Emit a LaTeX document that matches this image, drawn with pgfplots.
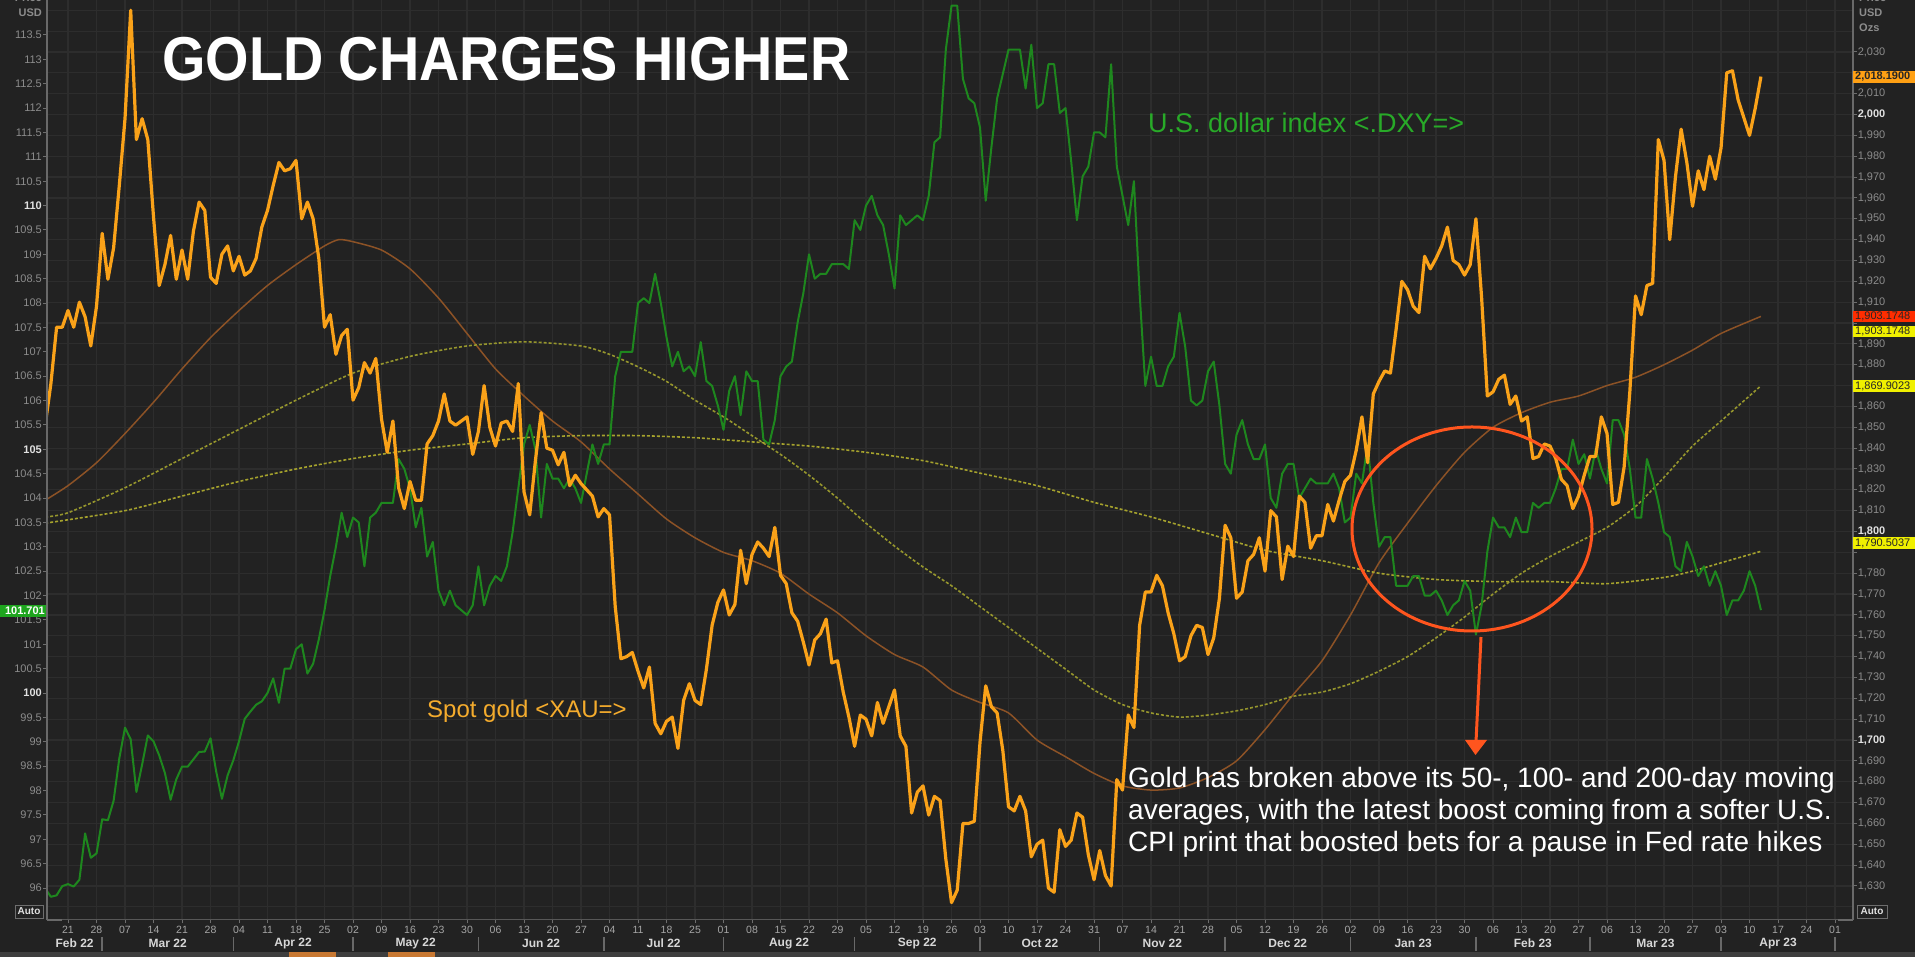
\documentclass[border=0pt]{standalone}
\usepackage{fontspec}
\setmainfont{Liberation Sans}
\usepackage{graphicx}
\usepackage{pgfplots}
\pgfplotsset{compat=1.18}

\definecolor{bg}{RGB}{34,34,34}
\definecolor{gridc}{RGB}{45,45,45}
\definecolor{goldc}{RGB}{250,162,25}
\definecolor{dxyc}{RGB}{30,135,30}
\definecolor{maf}{RGB}{140,82,38}
\definecolor{mam}{RGB}{150,150,45}
\definecolor{mas}{RGB}{165,162,45}
\definecolor{ticklab}{RGB}{140,140,140}
\definecolor{labhi}{RGB}{225,225,225}
\definecolor{tickc}{RGB}{110,110,110}
\definecolor{axisc}{RGB}{105,105,105}
\definecolor{circ}{RGB}{255,85,30}
\definecolor{labgreen}{RGB}{40,170,40}
\definecolor{laborange}{RGB}{245,172,45}
\definecolor{daylab}{RGB}{165,165,165}
\definecolor{monlab}{RGB}{215,215,215}
\definecolor{band}{RGB}{62,62,62}
\definecolor{bandor}{RGB}{200,120,50}
\definecolor{tagor}{RGB}{255,160,20}
\definecolor{tagred}{RGB}{255,45,0}
\definecolor{tagyel}{RGB}{240,240,0}
\definecolor{taggreen}{RGB}{30,165,30}

\pgfplotsset{base/.style={scale only axis, width=1806pt, height=920pt,
  at={(47pt,37pt)}, anchor=south west, xmin=-0.737, xmax=62.632,
  axis line style={draw=none}, clip=true}}

\begin{document}
\begin{tikzpicture}[x=1pt,y=1pt]
\useasboundingbox (0,0) rectangle (1915,957);
\clip (0,0) rectangle (1915,957);
\fill[bg] (0,0) rectangle (1915,957);

% grid and moving averages (gold scale)
\begin{axis}[base, ymin=1613.69, ymax=2054.94,
  xtick={0,...,62}, ytick={1620,1630,...,2050},
  xticklabels={}, yticklabels={},
  grid=major, major grid style={draw=gridc, line width=1.2pt},
  major tick length=0pt]
\addplot[maf, line width=1.5pt, smooth, tension=0.4] coordinates {
(-0.8,1815)(0,1822)(1,1833)(2,1847)(3,1862)(4,1878)(5,1893)(6,1906)(7,1918)(8,1928)(9,1937)(9.5,1940)(10,1939)(11,1935)(12,1926)(13,1912)(14,1895)(15,1878)(16,1865)(17,1853)(18,1843)(19,1830)(20,1818)(21,1806)(22,1797)(23,1790)(24,1786)(25,1780)(26,1770)(27,1761)(28,1750)(29,1741)(30,1735)(31,1724)(32,1718)(33,1713)(34,1700)(35,1692)(36,1684)(37,1678)(38,1676)(39,1677)(40,1682)(41,1690)(42,1705)(43,1722)(44,1738)(45,1760)(46,1785)(47,1804)(48,1822)(49,1838)(50,1850)(51,1857)(52,1862)(53,1865)(54,1870)(55,1874)(56,1880)(57,1887)(58,1895)(59.4,1903.17)};
\addplot[mam, line width=1.6pt, dash pattern=on 3pt off 2pt, smooth, tension=0.4] coordinates {
(-0.8,1807)(0,1809)(2,1821)(4,1835)(6,1849)(8,1863)(10,1876)(12,1884)(14,1889)(16,1891)(18,1889)(19,1885)(20,1879)(21,1872)(22,1863)(23,1855)(24,1846)(25,1837)(26,1827)(27,1816)(28,1804)(29,1793)(30,1783)(31,1774)(32,1764)(33,1754)(34,1744)(35,1734)(36,1724)(37,1717)(38,1713)(39,1711)(40,1712)(41,1714)(42,1717)(43,1721)(44,1723)(45,1727)(46,1733)(47,1740)(48,1749)(49,1759)(50,1770)(51,1780)(52,1788)(53,1795)(54,1802)(55,1812)(56,1826)(57,1841)(58,1853)(59.4,1869.90)};
\addplot[mas, line width=1.6pt, dash pattern=on 3pt off 2pt, smooth, tension=0.4] coordinates {
(-0.8,1804)(2,1810)(4,1817)(6,1824)(8,1830)(10,1835)(12,1839)(14,1842)(16,1845)(18,1846)(20,1846)(22,1845)(24,1843)(26,1841)(28,1838)(30,1834)(32,1828)(34,1822)(36,1814)(38,1807)(40,1799)(42,1791)(44,1786)(46,1780)(48,1777)(50,1776)(52,1776)(54,1775)(56,1778)(57,1781)(58,1785)(59.4,1790.50)};
\end{axis}

% U.S. dollar index (left scale)
\begin{axis}[base, ymin=95.344, ymax=114.218,
  xtick=\empty,
  ytick={96,96.5,97,97.5,98,98.5,99,99.5,100,100.5,101,101.5,102,102.5,103,103.5,104,104.5,105,105.5,106,106.5,107,107.5,108,108.5,109,109.5,110,110.5,111,111.5,112,112.5,113,113.5},
  yticklabels={{96},{96.5},{97},{97.5},{98},{98.5},{99},{99.5},{\color{labhi}\textbf{100}},{100.5},{101},{101.5},{102},{102.5},{103},{103.5},{104},{104.5},{\color{labhi}\textbf{105}},{105.5},{106},{106.5},{107},{107.5},{108},{108.5},{109},{109.5},{\color{labhi}\textbf{110}},{110.5},{111},{111.5},{112},{112.5},{113},{113.5}},
  ytick pos=left, yticklabel pos=left, tick align=outside, major tick length=4pt,
  tick style={draw=tickc, line width=1pt},
  yticklabel style={font=\fontsize{11}{11}\selectfont, text=ticklab, inner sep=1pt}]
\addplot[dxyc, line width=2pt, line join=round] coordinates {
(-0.8,95.99)(-0.6,95.82)(-0.4,95.85)(-0.2,96.04)
(0,96.08)(0.2,96.03)(0.4,96.17)(0.6,97.12)(0.8,96.62)
(1,96.71)(1.2,97.41)(1.4,97.39)(1.6,97.79)(1.8,98.66)
(2,99.29)(2.2,99.05)(2.4,97.97)(2.6,98.53)(2.8,99.13)
(3,99.01)(3.2,98.72)(3.4,98.36)(3.6,97.81)(3.8,98.23)
(4,98.49)(4.2,98.49)(4.4,98.64)(4.6,98.79)(4.8,98.80)
(5,99.07)(5.2,98.39)(5.4,97.83)(5.6,98.31)(5.8,98.62)
(6,99.01)(6.2,99.47)(6.4,99.62)(6.6,99.76)(6.8,99.83)
(7,100.00)(7.2,100.30)(7.4,99.80)(7.6,100.50)(7.8,100.50)
(8,100.90)(8.2,101.00)(8.4,100.40)(8.6,100.60)(8.8,101.10)
(9,101.70)(9.2,102.40)(9.4,103.00)(9.6,103.70)(9.8,103.20)
(10,103.60)(10.2,103.50)(10.4,102.60)(10.6,103.60)(10.8,103.70)
(11,103.90)(11.2,103.90)(11.4,103.90)(11.6,104.80)(11.8,104.60)
(12,104.20)(12.2,103.40)(12.4,103.80)(12.6,102.80)(12.8,103.10)
(13,102.10)(13.2,101.80)(13.4,102.10)(13.6,101.80)(13.8,101.70)
(14,101.60)(14.2,101.80)(14.4,102.60)(14.6,101.80)(14.8,102.20)
(15,102.40)(15.2,102.30)(15.4,102.60)(15.6,103.30)(15.8,104.20)
(16,105.10)(16.2,105.50)(16.4,105.00)(16.6,103.60)(16.8,104.70)
(17,104.40)(17.2,104.40)(17.4,104.20)(17.6,104.40)(17.8,104.20)
(18,103.90)(18.2,104.50)(18.4,105.10)(18.6,104.70)(18.8,105.10)
(19,105.10)(19.2,106.50)(19.4,107.00)(19.6,107.00)(19.8,107.00)
(20,108.00)(20.2,108.10)(20.4,108.00)(20.6,108.60)(20.8,108.00)
(21,107.30)(21.2,106.70)(21.4,107.00)(21.6,106.60)(21.8,106.70)
(22,106.50)(22.2,107.20)(22.4,106.40)(22.6,106.30)(22.8,105.90)
(23,105.40)(23.2,106.20)(23.4,106.50)(23.6,105.70)(23.8,106.60)
(24,106.40)(24.2,106.40)(24.4,105.20)(24.6,105.10)(24.8,105.60)
(25,106.50)(25.2,106.70)(25.4,106.80)(25.6,107.60)(25.8,108.20)
(26,109.00)(26.2,108.50)(26.4,108.60)(26.6,108.60)(26.8,108.80)
(27,108.80)(27.2,108.80)(27.4,108.70)(27.6,109.70)(27.8,109.50)
(28,110.00)(28.2,110.20)(28.4,109.80)(28.6,109.60)(28.8,109.00)
(29,108.30)(29.2,109.80)(29.4,109.60)(29.6,109.70)(29.8,109.80)
(30,109.70)(30.2,110.20)(30.4,111.30)(30.6,111.40)(30.8,113.20)
(31,114.10)(31.2,114.10)(31.4,112.60)(31.6,112.20)(31.8,112.10)
(32,111.60)(32.2,110.10)(32.4,111.20)(32.6,112.20)(32.8,112.70)
(33,113.20)(33.2,113.20)(33.4,113.20)(33.6,112.40)(33.8,113.30)
(34,112.00)(34.2,112.10)(34.4,112.90)(34.6,112.90)(34.8,111.90)
(35,112.00)(35.2,110.90)(35.4,109.70)(35.6,110.60)(35.8,110.80)
(36,111.50)(36.2,111.50)(36.4,111.40)(36.6,112.90)(36.8,110.80)
(37,110.20)(37.2,109.60)(37.4,110.50)(37.6,108.20)(37.8,106.30)
(38,106.90)(38.2,106.30)(38.4,106.30)(38.6,106.70)(38.8,106.90)
(39,107.80)(39.2,107.10)(39.4,106.00)(39.6,105.90)(39.8,106.00)
(40,106.60)(40.2,106.80)(40.4,105.90)(40.6,104.70)(40.8,104.50)
(41,105.30)(41.2,105.60)(41.4,105.10)(41.6,104.80)(41.8,104.80)
(42,105.10)(42.2,104.00)(42.4,103.80)(42.6,104.50)(42.8,104.70)
(43,104.70)(43.2,104.00)(43.4,104.20)(43.6,104.40)(43.8,104.30)
(44,104.30)(44.2,104.30)(44.4,104.50)(44.6,104.20)(44.8,103.50)
(45,103.60)(45.2,104.50)(45.4,104.30)(45.6,105.10)(45.8,103.90)
(46,103.00)(46.2,103.20)(46.4,103.20)(46.6,102.20)(46.8,102.20)
(47,102.20)(47.2,102.40)(47.4,102.40)(47.6,102.00)(47.8,102.00)
(48,102.10)(48.2,101.90)(48.4,101.60)(48.6,101.80)(48.8,101.90)
(49,102.30)(49.2,102.10)(49.4,101.20)(49.6,101.80)(49.8,102.90)
(50,103.60)(50.2,103.40)(50.4,103.40)(50.6,103.20)(50.8,103.60)
(51,103.30)(51.2,103.30)(51.4,103.90)(51.6,103.80)(51.8,103.90)
(52,103.90)(52.2,104.20)(52.4,104.60)(52.6,104.60)(52.8,105.20)
(53,104.70)(53.2,104.90)(53.4,104.40)(53.6,105.00)(53.8,104.60)
(54,104.30)(54.2,105.60)(54.4,105.60)(54.6,105.30)(54.8,104.60)
(55,103.60)(55.2,103.60)(55.4,104.80)(55.6,104.40)(55.8,103.90)
(56,103.30)(56.2,103.20)(56.4,102.60)(56.6,102.50)(56.8,103.10)
(57,102.80)(57.2,102.40)(57.4,102.60)(57.6,102.20)(57.8,102.50)
(58,102.20)(58.2,101.60)(58.4,101.90)(58.6,101.90)(58.8,102.10)
(59,102.50)(59.2,102.20)(59.4,101.701)};
\end{axis}

% Spot gold (right scale)
\begin{axis}[base, ymin=1613.69, ymax=2054.94,
  xtick={0,...,62}, xticklabels={}, xtick pos=bottom,
  ytick={1630,1640,...,2030},
  yticklabels={{1,630},{1,640},{1,650},{1,660},{1,670},{1,680},{1,690},{\color{labhi}\textbf{1,700}},{1,710},{1,720},{1,730},{1,740},{1,750},{1,760},{1,770},{1,780},{},{\color{labhi}\textbf{1,800}},{1,810},{1,820},{1,830},{1,840},{1,850},{1,860},{},{1,880},{1,890},{},{1,910},{1,920},{1,930},{1,940},{1,950},{1,960},{1,970},{1,980},{1,990},{\color{labhi}\textbf{2,000}},{2,010},{},{2,030}},
  ytick pos=right, yticklabel pos=right, tick align=outside, major tick length=3.5pt,
  tick style={draw=tickc, line width=1pt},
  yticklabel style={font=\fontsize{11}{11}\selectfont, text=ticklab, inner sep=1pt}]
\addplot[goldc, line width=3.2pt, line join=round] coordinates {
(-0.8,1851)(-0.6,1871)(-0.4,1898)(-0.2,1898)
(0,1906)(0.2,1898)(0.4,1910)(0.6,1903)(0.8,1889)
(1,1908)(1.2,1943)(1.4,1921)(1.6,1936)(1.8,1966)
(2,1998)(2.2,2050)(2.4,1988)(2.6,1998)(2.8,1988)
(3,1951)(3.2,1918)(3.4,1928)(3.6,1942)(3.8,1921)
(4,1935)(4.2,1921)(4.4,1944)(4.6,1958)(4.8,1954)
(5,1922)(5.2,1919)(5.4,1933)(5.6,1937)(5.8,1925)
(6,1932)(6.2,1923)(6.4,1925)(6.6,1931)(6.8,1946)
(7,1954)(7.2,1966)(7.4,1977)(7.6,1973)(7.8,1974)
(8,1978)(8.2,1950)(8.4,1958)(8.6,1950)(8.8,1931)
(9,1898)(9.2,1904)(9.4,1885)(9.6,1894)(9.8,1897)
(10,1863)(10.2,1869)(10.4,1881)(10.6,1876)(10.8,1883)
(11,1854)(11.2,1838)(11.4,1853)(11.6,1821)(11.8,1811)
(12,1824)(12.2,1815)(12.4,1815)(12.6,1842)(12.8,1846)
(13,1853)(13.2,1866)(13.4,1853)(13.6,1851)(13.8,1853)
(14,1855)(14.2,1837)(14.4,1848)(14.6,1870)(14.8,1850)
(15,1841)(15.2,1852)(15.4,1853)(15.6,1848)(15.8,1871)
(16,1819)(16.2,1808)(16.4,1834)(16.6,1857)(16.8,1840)
(17,1839)(17.2,1832)(17.4,1838)(17.6,1822)(17.8,1827)
(18,1823)(18.2,1820)(18.4,1817)(18.6,1807)(18.8,1811)
(19,1808)(19.2,1764)(19.4,1739)(19.6,1740)(19.8,1742)
(20,1733)(20.2,1725)(20.4,1735)(20.6,1708)(20.8,1703)
(21,1709)(21.2,1711)(21.4,1696)(21.6,1719)(21.8,1727)
(22,1719)(22.2,1717)(22.4,1734)(22.6,1755)(22.8,1766)
(23,1772)(23.2,1760)(23.4,1765)(23.6,1791)(23.8,1775)
(24,1789)(24.2,1795)(24.4,1792)(24.6,1788)(24.8,1802)
(25,1779)(25.2,1775)(25.4,1761)(25.6,1757)(25.8,1747)
(26,1736)(26.2,1748)(26.4,1751)(26.6,1758)(26.8,1737)
(27,1738)(27.2,1723)(27.4,1711)(27.6,1697)(27.8,1712)
(28,1710)(28.2,1702)(28.4,1718)(28.6,1708)(28.8,1716)
(29,1724)(29.2,1702)(29.4,1697)(29.6,1665)(29.8,1675)
(30,1678)(30.2,1664)(30.4,1673)(30.6,1671)(30.8,1643)
(31,1622)(31.2,1628)(31.4,1660)(31.6,1660)(31.8,1661)
(32,1699)(32.2,1726)(32.4,1716)(32.6,1713)(32.8,1695)
(33,1668)(33.2,1666)(33.4,1673)(33.6,1666)(33.8,1644)
(34,1650)(34.2,1652)(34.4,1629)(34.6,1627)(34.8,1657)
(35,1649)(35.2,1652)(35.4,1665)(35.6,1663)(35.8,1645)
(36,1633)(36.2,1647)(36.4,1635)(36.6,1630)(36.8,1681)
(37,1676)(37.2,1712)(37.4,1706)(37.6,1755)(37.8,1771)
(38,1771)(38.2,1779)(38.4,1774)(38.6,1761)(38.8,1751)
(39,1738)(39.2,1740)(39.4,1750)(39.6,1755)(39.8,1754)
(40,1741)(40.2,1749)(40.4,1768)(40.6,1803)(40.8,1797)
(41,1768)(41.2,1771)(41.4,1786)(41.6,1789)(41.8,1797)
(42,1781)(42.2,1810)(42.4,1807)(42.6,1777)(42.8,1793)
(43,1788)(43.2,1817)(43.4,1814)(43.6,1792)(43.8,1798)
(44,1798)(44.2,1813)(44.4,1805)(44.6,1815)(44.8,1824)
(45,1827)(45.2,1839)(45.4,1855)(45.6,1833)(45.8,1866)
(46,1872)(46.2,1877)(46.4,1876)(46.6,1897)(46.8,1920)
(47,1916)(47.2,1908)(47.4,1905)(47.6,1932)(47.8,1926)
(48,1931)(48.2,1937)(48.4,1946)(48.6,1930)(48.8,1928)
(49,1923)(49.2,1928)(49.4,1950)(49.6,1912)(49.8,1865)
(50,1867)(50.2,1873)(50.4,1875)(50.6,1861)(50.8,1865)
(51,1853)(51.2,1855)(51.4,1835)(51.6,1836)(51.8,1842)
(52,1841)(52.2,1835)(52.4,1825)(52.6,1822)(52.8,1811)
(53,1817)(53.2,1827)(53.4,1836)(53.6,1836)(53.8,1855)
(54,1847)(54.2,1813)(54.4,1814)(54.6,1831)(54.8,1867)
(55,1913)(55.2,1904)(55.4,1918)(55.6,1919)(55.8,1988)
(56,1978)(56.2,1940)(56.4,1970)(56.6,1993)(56.8,1977)
(57,1956)(57.2,1973)(57.4,1964)(57.6,1980)(57.8,1969)
(58,1984)(58.2,2020)(58.4,2021)(58.6,2007)
(59,1990)(59.2,2003)(59.4,2018.19)};
\end{axis}

% axis frame
\draw[axisc, line width=1.2pt] (47,37) -- (47,957);
\draw[axisc, line width=1.2pt] (1853,37) -- (1853,957);
\draw[axisc, line width=1.2pt] (47,37) -- (62,37);
\draw[axisc, line width=1.2pt] (1838,37) -- (1853,37);
\draw[gridc!80!white, line width=1pt] (62,37) -- (1838,37);

% date axis
\foreach \k/\d in {0/21,1/28,2/07,3/14,4/21,5/28,6/04,7/11,8/18,9/25,10/02,11/09,12/16,13/23,14/30,15/06,16/13,17/20,18/27,19/04,20/11,21/18,22/25,23/01,24/08,25/15,26/22,27/29,28/05,29/12,30/19,31/26,32/03,33/10,34/17,35/24,36/31,37/07,38/14,39/21,40/28,41/05,42/12,43/19,44/26,45/02,46/09,47/16,48/23,49/30,50/06,51/13,52/20,53/27,54/06,55/13,56/20,57/27,58/03,59/10,60/17,61/24,62/01}
  \node[font=\fontsize{10.5}{10.5}\selectfont, text=daylab, inner sep=0] at ({68+28.5*\k},27) {\d};
\foreach \a/\b/\m in {-0.737/1.2/Feb 22,1.2/5.8/Mar 22,5.8/10/Apr 22,10/14.4/May 22,14.4/18.8/Jun 22,18.8/23/Jul 22,23/27.6/Aug 22,27.6/32/Sep 22,32/36.2/Oct 22,36.2/40.6/Nov 22,40.6/45/Dec 22,45/49.4/Jan 23,49.4/53.4/Feb 23,53.4/58/Mar 23,58/62/Apr 23}
  \node[font=\fontsize{12}{12}\selectfont\bfseries, text=monlab, inner sep=0] at ({68+28.5*(\a+\b)/2},13.5) {\m};
\foreach \s in {1.2,5.8,10,14.4,18.8,23,27.6,32,36.2,40.6,45,49.4,53.4,58,62}
  \draw[axisc, line width=1.5pt] ({68+28.5*\s},6) -- ({68+28.5*\s},20);
\fill[band] (0,0) rectangle (1915,5);
\fill[bandor] (289,0) rectangle (336,5);
\fill[bandor] (388,0) rectangle (435,5);

% axis units
\node[anchor=east, font=\fontsize{11}{11}\selectfont\bfseries, text=ticklab, inner sep=0] at (42,944) {USD};
\node[anchor=east, font=\fontsize{11}{11}\selectfont\bfseries, text=ticklab, inner sep=0] at (42,959) {Price};
\node[anchor=west, font=\fontsize{11}{11}\selectfont\bfseries, text=ticklab, inner sep=0] at (1859,959) {Price};
\node[anchor=west, font=\fontsize{11}{11}\selectfont\bfseries, text=ticklab, inner sep=0] at (1859,944) {USD};
\node[anchor=west, font=\fontsize{11}{11}\selectfont\bfseries, text=ticklab, inner sep=0] at (1859,929) {Ozs};
\node[draw=tickc, fill=bg, text=labhi, font=\fontsize{10}{10}\selectfont\bfseries, inner sep=1.5pt, minimum width=28pt, minimum height=13pt] at (29,45.5) {Auto};
\node[draw=tickc, fill=bg, text=labhi, font=\fontsize{10}{10}\selectfont\bfseries, inner sep=1.5pt, minimum width=30pt, minimum height=13pt] at (1872,45.5) {Auto};

% last-value tags
\fill[taggreen] (0,340) rectangle (46,352);
\node[anchor=east, font=\fontsize{11}{11}\selectfont\bfseries, text=white, inner sep=0] at (45,346) {101.701};
\fill[tagor] (1853,874) rectangle (1930,886);
\node[anchor=west, font=\fontsize{11}{11}\selectfont\bfseries, text=black!85, inner sep=0] at (1855,880) {2,018.1900};
\fill[tagred] (1853,635) rectangle (1930,646);
\node[anchor=west, font=\fontsize{11}{11}\selectfont, text=black!85, inner sep=0] at (1855,640.5) {1,903.1748};
\fill[tagyel] (1853,620) rectangle (1930,631);
\node[anchor=west, font=\fontsize{11}{11}\selectfont, text=black!85, inner sep=0] at (1855,625.5) {1,903.1748};
\fill[tagyel] (1853,565) rectangle (1930,577);
\node[anchor=west, font=\fontsize{11}{11}\selectfont, text=black!85, inner sep=0] at (1855,571) {1,869.9023};
\fill[tagyel] (1853,408) rectangle (1930,420);
\node[anchor=west, font=\fontsize{11}{11}\selectfont, text=black!85, inner sep=0] at (1855,414) {1,790.5037};

% titles and annotations
\node[anchor=base west, text=white, inner sep=0, font=\fontsize{62}{62}\selectfont\bfseries] at (162,876) {\scalebox{0.9}[1]{GOLD CHARGES HIGHER}};
\node[anchor=west, text=labgreen, inner sep=0, font=\fontsize{27}{27}\selectfont] at (1148,834) {U.S. dollar index <.DXY=>};
\node[anchor=west, text=laborange, inner sep=0, font=\fontsize{24}{24}\selectfont] at (427,246) {Spot gold <XAU=>};
\draw[circ, line width=3pt] (1472,428) ellipse [x radius=120, y radius=102];
\draw[circ, line width=3pt] (1481,320) -- (1476,215);
\fill[circ] (1465,217) -- (1487,217) -- (1475.5,202) -- cycle;
\node[anchor=north west, text=white, align=left, inner sep=0, font=\fontsize{28}{32}\selectfont] at (1128,190) {Gold has broken above its 50-, 100- and 200-day moving\\averages, with the latest boost coming from a softer U.S.\\CPI print that boosted bets for a pause in Fed rate hikes};
\end{tikzpicture}
\end{document}
